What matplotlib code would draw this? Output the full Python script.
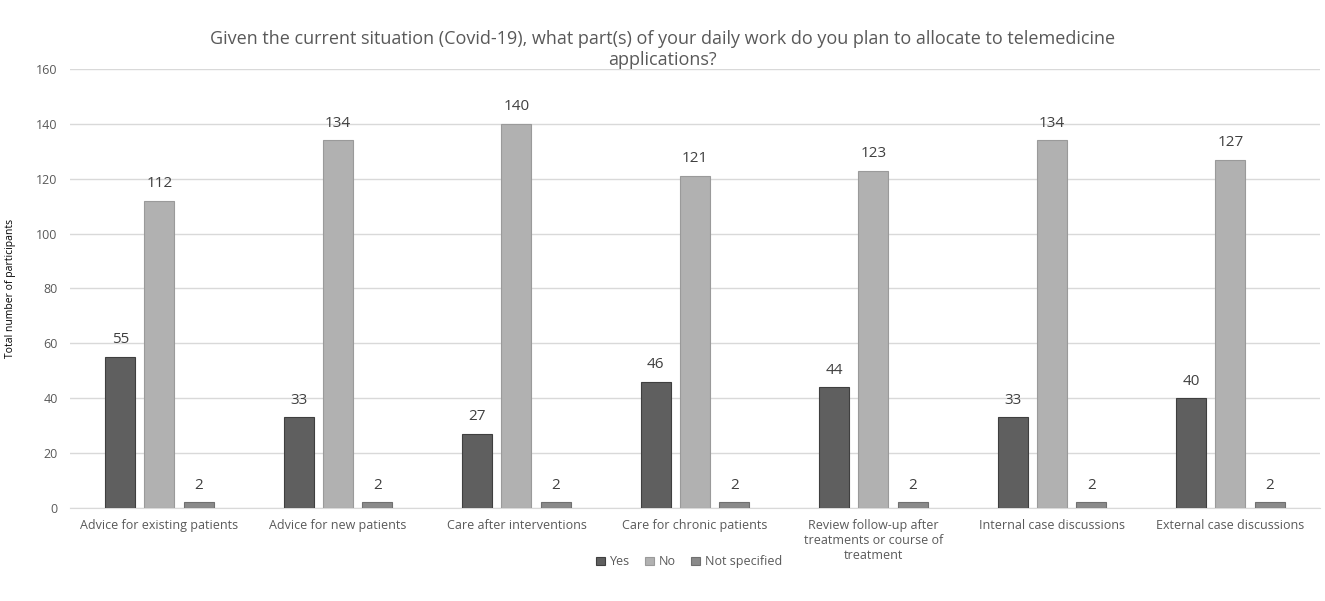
import matplotlib.pyplot as plt
import numpy as np

categories = ["Advice for existing patients", "Advice for new patients", "Care after interventions",
              "Care for chronic patients", "Review follow-up after\ntreatments or course of\ntreatment",
              "Internal case discussions", "External case discussions"]
yes = [55, 33, 27, 46, 44, 33, 40]
no = [112, 134, 140, 121, 123, 134, 127]
not_specified = [2, 2, 2, 2, 2, 2, 2]
series_names = ["Yes", "No", "Not specified"]

plt.rcParams['font.family'] = ['Open Sans', 'DejaVu Sans']
txt = '#595959'

fig = plt.figure(figsize=(13.25, 6.01), dpi=100)
ax = fig.add_axes([0.053, 0.155, 0.943, 0.730])

x = np.arange(len(categories))
w = 0.168
step = 0.22
fills = ['#5f5f5f', '#b1b1b1', '#8a8a8a']
edges = ['#3f3f3f', '#9a9a9a', '#707070']
for i, (vals, name) in enumerate(zip([yes, no, not_specified], series_names)):
    bars = ax.bar(x + (i - 1) * step, vals, w, color=fills[i], edgecolor=edges[i], linewidth=0.8,
                  label=name, zorder=3)
    for b, v in zip(bars, vals):
        ax.text(b.get_x() + b.get_width() / 2, v + 3.5, str(v), ha='center', va='bottom',
                fontsize=11, color='#404040')

ax.set_xlim(-0.5, len(categories) - 0.5)
ax.set_ylim(0, 160)
ax.set_yticks(range(0, 161, 20))
ax.yaxis.grid(True, color='#d9d9d9', linewidth=1, zorder=0)
for s in ['top', 'right', 'left']:
    ax.spines[s].set_visible(False)
ax.spines['bottom'].set_color('#d9d9d9')
ax.tick_params(axis='both', length=0, colors=txt, labelsize=9)
ax.tick_params(axis='y', pad=9)
ax.set_xticks(x)
ax.set_xticklabels(categories, fontsize=9, color=txt, va='top', linespacing=1.2)
ax.tick_params(axis='x', pad=8)
ax.set_ylabel("Total number of participants", fontsize=7.5, color='#000000', labelpad=18)
ax.yaxis.set_label_coords(-0.043, 0.5)

fig.text(0.5, 0.918, "Given the current situation (Covid-19), what part(s) of your daily work do you plan to allocate to telemedicine\napplications?",
         ha='center', va='center', fontsize=13, color=txt, linespacing=1.25)

leg = fig.legend(loc='center', bbox_to_anchor=(0.52, 0.065), ncol=3, frameon=False, fontsize=9,
                 handlelength=0.7, handleheight=0.7, columnspacing=1.2, handletextpad=0.4)
for t in leg.get_texts():
    t.set_color(txt)

fig.savefig('out.png', dpi=100, facecolor='white')
